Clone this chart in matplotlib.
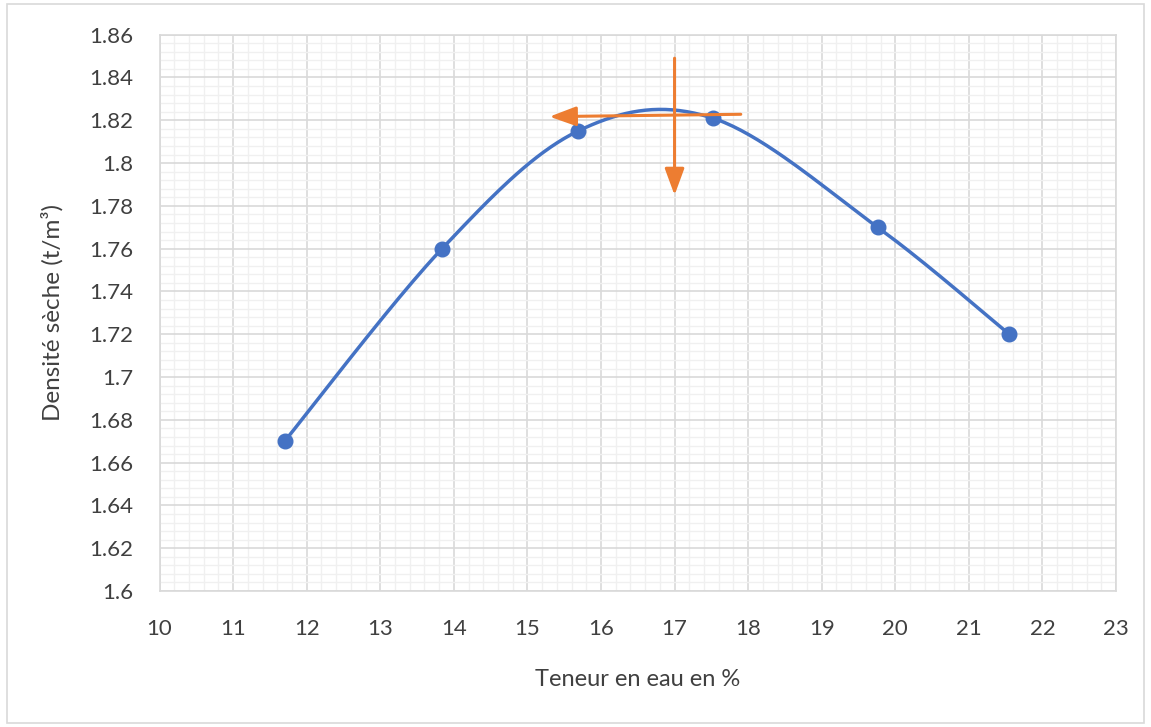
import numpy as np
import matplotlib.pyplot as plt
from matplotlib.patches import Rectangle

# data
teneur = [11.7, 13.84, 15.69, 17.52, 19.76, 21.55]
densite = [1.670, 1.760, 1.815, 1.821, 1.770, 1.720]

# orange arrows (start -> tip)
arrow_h = [(17.9, 1.8228), (15.3, 1.8217)]
arrow_v = [(17.0, 1.849), (17.0, 1.785)]

xlim = (10, 23)
ylim = (1.6, 1.86)
xticks = list(range(10, 24))
yticks = [1.6, 1.62, 1.64, 1.66, 1.68, 1.7, 1.72, 1.74, 1.76, 1.78, 1.8, 1.82, 1.84, 1.86]
ylabels = ['1.6', '1.62', '1.64', '1.66', '1.68', '1.7', '1.72', '1.74', '1.76', '1.78',
           '1.8', '1.82', '1.84', '1.86']

blue = '#4472C4'
orange = '#ED7D31'

plt.rcParams['font.family'] = ['Lato', 'DejaVu Sans']


def excel_smooth(x, y, n=40):
    # bezier smoothing like excel, done in normalised axis units
    sx = (np.array(x) - xlim[0]) / (xlim[1] - xlim[0]) * 956
    sy = (np.array(y) - ylim[0]) / (ylim[1] - ylim[0]) * 556
    P = np.column_stack([sx, sy])
    m = len(P)
    out = []
    for i in range(m - 1):
        p0 = P[i - 1] if i > 0 else P[i]
        p1 = P[i]
        p2 = P[i + 1]
        p3 = P[i + 2] if i + 2 < m else P[i + 1]
        c1 = p1 + (p2 - p0) / 6
        c2 = p2 - (p3 - p1) / 6
        t = np.linspace(0, 1, n)[:, None]
        seg = (1 - t)**3 * p1 + 3 * (1 - t)**2 * t * c1 + 3 * (1 - t) * t**2 * c2 + t**3 * p2
        out.append(seg if i == 0 else seg[1:])
    c = np.vstack(out)
    return (c[:, 0] / 956 * (xlim[1] - xlim[0]) + xlim[0],
            c[:, 1] / 556 * (ylim[1] - ylim[0]) + ylim[0])


fig = plt.figure(figsize=(11.51, 7.27), dpi=100)
ax = fig.add_axes([0.1386, 0.187, 0.831, 0.7653])

ax.set_xlim(*xlim)
ax.set_ylim(*ylim)
ax.set_xticks(xticks)
ax.set_yticks(yticks)
ax.set_yticklabels(ylabels)
ax.set_xticks(np.arange(10, 23.01, 0.2), minor=True)
ax.set_yticks(np.arange(1.6, 1.8601, 0.004), minor=True)
ax.grid(which='minor', color='#f0f0f0', lw=1.0)
ax.grid(which='major', color='#d9d9d9', lw=1.2)
ax.set_axisbelow(True)
ax.tick_params(which='both', length=0)
ax.tick_params(axis='x', pad=20, labelsize=16, labelcolor='#404040')
ax.tick_params(axis='y', pad=19, labelsize=16, labelcolor='#404040')
for s in ax.spines.values():
    s.set_color('#d9d9d9')
    s.set_linewidth(1.2)

cx, cy = excel_smooth(teneur, densite)
ax.plot(cx, cy, color=blue, lw=2.5, zorder=3)
ax.plot(teneur, densite, 'o', color=blue, ms=10.5, zorder=4)

for a in (arrow_h, arrow_v):
    ax.annotate('', xy=a[1], xytext=a[0],
                arrowprops=dict(arrowstyle='-|>,head_length=0.9,head_width=0.33',
                                color=orange, lw=2.2, mutation_scale=18,
                                shrinkA=0, shrinkB=0),
                zorder=5)

ax.set_xlabel('Teneur en eau en %', fontsize=17, color='#404040', labelpad=22)
ax.set_ylabel('Densité sèche (t/m³)', fontsize=17.5, color='#404040', labelpad=18)

fig.patches.append(Rectangle((0.006, 0.006), 0.988, 0.988, transform=fig.transFigure,
                             fill=False, edgecolor='#d9d9d9', lw=1.2))

fig.savefig('out.png', dpi=100)
